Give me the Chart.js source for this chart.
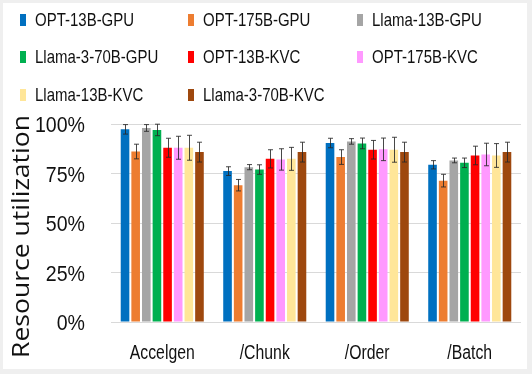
<!DOCTYPE html>
<html>
<head>
<meta charset="utf-8">
<script src="https://cdn.jsdelivr.net/npm/chart.js@4/dist/chart.umd.min.js"></script>
<style>
  body { margin: 0; background: #efefef; width: 532px; height: 374px; overflow: hidden; }
  #frame { position: absolute; left: 3px; top: 3px; width: 524px; height: 366px; background: #fff; }
  #myChart { position: absolute; left: 0; top: 0; }
  .item { position: absolute; height: 20px; font: 18.5px "Liberation Sans", sans-serif; color: #111; white-space: nowrap; }
  .item span.box { position: absolute; left: 0; top: 4px; width: 6px; height: 12px; }
  .item span.txt { position: absolute; left: 15px; top: -1px; line-height: 22px; transform: scaleX(0.81); transform-origin: left center; }
</style>
</head>
<body>
<div id="frame">
  <canvas id="myChart" width="524" height="366"></canvas>
</div>
<div id="legend"></div>
<script>
const categories = ['Accelgen', '/Chunk', '/Order', '/Batch']
const seriesNames = ['OPT-13B-GPU', 'OPT-175B-GPU', 'Llama-13B-GPU', 'Llama-3-70B-GPU',
    'OPT-13B-KVC', 'OPT-175B-KVC', 'Llama-13B-KVC', 'Llama-3-70B-KVC']
const colors = ['#0070C0', '#ED7D31', '#A5A5A5', '#00B050', '#FF0000', '#FF99FF', '#FFE699', '#9E480E']

// mean utilization (%) per category
const opt13bGpu = [97.3, 76.2, 90.4, 79.4]
const opt175bGpu = [86.1, 69.1, 83.3, 71.4]
const llama13bGpu = [98.0, 78.2, 91.2, 81.6]
const llama70bGpu = [97.0, 77.0, 90.2, 80.4]
const opt13bKvc = [88.0, 82.4, 87.0, 84.1]
const opt175bKvc = [88.0, 82.1, 87.2, 84.6]
const llama13bKvc = [88.0, 82.4, 87.0, 84.1]
const llama70bKvc = [85.8, 85.8, 85.8, 85.8]

// error bar half-widths (%)
const opt13bGpuErr = [2.4, 2.2, 2.4, 2.1]
const opt175bGpuErr = [3.7, 2.9, 3.7, 3.2]
const llama13bGpuErr = [1.7, 1.3, 1.4, 1.2]
const llama70bGpuErr = [2.9, 2.4, 2.7, 2.4]
const opt13bKvcErr = [4.8, 4.6, 4.7, 4.7]
const opt175bKvcErr = [5.8, 5.4, 5.7, 5.7]
const llama13bKvcErr = [6.3, 5.8, 6.3, 6.0]
const llama70bKvcErr = [5.0, 5.0, 5.0, 5.0]

const yTicks = [0, 25, 50, 75, 100]

const values = [opt13bGpu, opt175bGpu, llama13bGpu, llama70bGpu, opt13bKvc, opt175bKvc, llama13bKvc, llama70bKvc]
const errors = [opt13bGpuErr, opt175bGpuErr, llama13bGpuErr, llama70bGpuErr, opt13bKvcErr, opt175bKvcErr, llama13bKvcErr, llama70bKvcErr]

// legend in three columns, like the original
const legend = document.getElementById('legend')
const colX = [20, 188, 357]
const rowY = [10, 47, 85]
seriesNames.forEach((name, i) => {
    const el = document.createElement('div')
    el.className = 'item'
    el.style.left = colX[i % 3] + 'px'
    el.style.top = rowY[Math.floor(i / 3)] + 'px'
    el.innerHTML = '<span class="box" style="background:' + colors[i] + '"></span><span class="txt">' + name + '</span>'
    legend.appendChild(el)
})

const errorBars = {
    id: 'errorBars',
    afterDatasetsDraw(chart) {
        const ctx = chart.ctx
        const y = chart.scales.y
        ctx.save()
        ctx.strokeStyle = 'rgba(40,40,40,0.85)'
        ctx.lineWidth = 1
        chart.data.datasets.forEach((ds, i) => {
            chart.getDatasetMeta(i).data.forEach((bar, j) => {
                const v = ds.data[j], e = errors[i][j]
                const top = y.getPixelForValue(v + e)
                const bot = y.getPixelForValue(v - e)
                const x = Math.round(bar.x) + 0.5
                ctx.beginPath()
                ctx.moveTo(x, top); ctx.lineTo(x, bot)
                ctx.moveTo(x - 2.5, top); ctx.lineTo(x + 2.5, top)
                ctx.moveTo(x - 2.5, bot); ctx.lineTo(x + 2.5, bot)
                ctx.stroke()
            })
        })
        ctx.restore()
    }
}

// narrow (Calibri-like) tick labels: drawn at the scales' own tick positions
function narrowText(ctx, text, x, y, sx, align) {
    ctx.save()
    ctx.translate(x, y)
    ctx.scale(sx, 1)
    ctx.textAlign = align
    ctx.fillText(text, 0, 0)
    ctx.restore()
}

const tickLabels = {
    id: 'tickLabels',
    afterDraw(chart) {
        const ctx = chart.ctx
        const xs = chart.scales.x, ys = chart.scales.y
        ctx.save()
        ctx.fillStyle = '#111'
        ctx.textBaseline = 'alphabetic'
        ctx.font = '19.5px "Liberation Sans", sans-serif'
        chart.data.labels.forEach((lab, i) => {
            narrowText(ctx, lab, xs.getPixelForTick(i), chart.chartArea.bottom + 37, 0.81, 'center')
        })
        ctx.font = '22px "Liberation Sans", sans-serif'
        ys.ticks.forEach(t => {
            narrowText(ctx, t.value + '%', chart.chartArea.left - 26, ys.getPixelForValue(t.value) + 8, 0.89, 'right')
        })
        ctx.restore()
    }
}

const yTitle = {
    id: 'yTitle',
    afterDraw(chart) {
        const ctx = chart.ctx
        const text = 'Resource utilization'
        ctx.save()
        ctx.font = '23px "Open Sans", sans-serif'
        ctx.fillStyle = '#111'
        ctx.textAlign = 'center'
        ctx.textBaseline = 'middle'
        const w = ctx.measureText(text).width
        ctx.translate(19, 233.5)
        ctx.rotate(-Math.PI / 2)
        ctx.scale(243 / w, 1)
        ctx.fillText(text, 0, 0)
        ctx.restore()
    }
}

const data = {
    labels: categories,
    datasets: seriesNames.map((name, i) => ({
        label: name,
        data: values[i],
        backgroundColor: colors[i],
        borderWidth: 0,
        categoryPercentage: 0.83,
        barPercentage: 0.81
    }))
}

const config = {
    type: 'bar',
    data: data,
    options: {
        responsive: false,
        animation: false,
        layout: { padding: { left: 0, right: 6, top: 121, bottom: 0 } },
        plugins: { legend: { display: false }, tooltip: { enabled: false } },
        scales: {
            x: {
                grid: { display: false },
                border: { display: false },
                ticks: { display: false },
                afterFit(scale) { scale.height = 47 }
            },
            y: {
                min: 0,
                max: 100,
                afterBuildTicks(scale) { scale.ticks = yTicks.map(v => ({ value: v })) },
                grid: { color: '#d9d9d9', lineWidth: 1, drawTicks: false },
                border: { display: false },
                ticks: { display: false },
                afterFit(scale) { scale.width = 108 }
            }
        }
    },
    plugins: [errorBars, tickLabels, yTitle]
}

var chart = new Chart(document.getElementById('myChart'), config)
</script>
</body>
</html>
